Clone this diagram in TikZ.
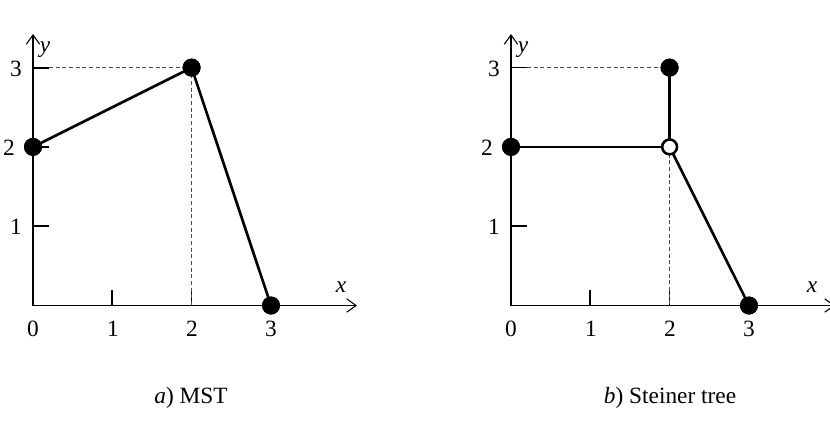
\documentclass[tikz,border=0pt]{standalone}
\usepackage{fontspec}
\setmainfont{Liberation Serif}
\usetikzlibrary{arrows.meta}
\begin{document}
\begin{tikzpicture}[x=0.75pt,y=-0.75pt,
  font=\fontsize{17.5}{20}\selectfont,
  axis/.style={line width=0.8pt,-{Straight Barb[length=7pt,width=10pt,line width=0.8pt]}},
  tickmark/.style={line width=1.5pt},
  edge/.style={line width=2pt},
  guide/.style={gray!60!black, line width=0.6pt, dash pattern=on 3pt off 2pt},
  dot/.style={circle, fill=black, inner sep=0pt, minimum size=13.5pt},
  sdot/.style={circle, draw=black, fill=white, line width=1.8pt, inner sep=0pt, minimum size=11pt},
  lbl/.style={inner sep=0pt, anchor=center}]
\useasboundingbox (0,0) rectangle (830,432);

% ---------- left plot ----------
\coordinate (O1) at (33,305.5);
\coordinate (X1) at (357,305.5);
\coordinate (Y1) at (33,34);
\draw[axis] (O1) -- (X1);
\draw[axis] (O1) -- (Y1);
\coordinate (t1x1a) at (112.3,305.5); \coordinate (t1x1b) at (112.3,290);
\coordinate (t1y1a) at (33,226.2); \coordinate (t1y1b) at (49,226.2);
\coordinate (t1y2a) at (33,146.9); \coordinate (t1y2b) at (49,146.9);
\coordinate (t1y3a) at (33,67.6); \coordinate (t1y3b) at (49,67.6);
\coordinate (t1x2a) at (191.6,305.5); \coordinate (t1x2b) at (191.6,290);
\draw[tickmark] (t1x1a) -- (t1x1b);
\draw[tickmark] (t1y1a) -- (t1y1b);
\draw[tickmark] (t1y2a) -- (t1y2b);
\draw[tickmark] (t1y3a) -- (t1y3b);
\draw[line width=0.6pt] (t1x2a) -- (t1x2b);
\node[dot] (a1) at (33,146.9) {};
\node[dot] (a2) at (191.6,67.6) {};
\node[dot] (a3) at (271,305.5) {};
\coordinate (g1) at (191.6,305.5);
\draw[guide] (t1y3b) -- (a2.center);
\draw[guide] (a2.center) -- (g1);
\draw[edge] (a1.center) -- (a2.center) -- (a3.center);
\node[dot] at (a1) {};
\node[dot] at (a2) {};
\node[dot] at (a3) {};
\node[lbl] (l1y) at (45,50) {\textit{y}};
\node[lbl] (l1x) at (341,287) {\textit{x}};
\node[lbl] (l1x0) at (33,329) {0};
\node[lbl] (l1x1) at (113,329) {1};
\node[lbl] (l1x2) at (192,329) {2};
\node[lbl] (l1x3) at (271,329) {3};
\node[lbl] (l1y1) at (16,227) {1};
\node[lbl] (l1y2) at (9,148) {2};
\node[lbl] (l1y3) at (16,69) {3};
\node[lbl] (cap1) at (191,398) {\textit{a}) MST};

% ---------- right plot ----------
\coordinate (O2) at (511,305.5);
\coordinate (X2) at (835,305.5);
\coordinate (Y2) at (511,34);
\draw[axis] (O2) -- (X2);
\draw[axis] (O2) -- (Y2);
\coordinate (t2x1a) at (590.3,305.5); \coordinate (t2x1b) at (590.3,290);
\coordinate (t2y1a) at (511,226.2); \coordinate (t2y1b) at (527,226.2);
\coordinate (t2y2a) at (511,146.9); \coordinate (t2y2b) at (527,146.9);
\coordinate (t2y3a) at (511,67.6); \coordinate (t2y3b) at (527,67.6);
\coordinate (t2x2a) at (669.6,305.5); \coordinate (t2x2b) at (669.6,290);
\draw[tickmark] (t2x1a) -- (t2x1b);
\draw[tickmark] (t2y1a) -- (t2y1b);
\draw[line width=0.6pt] (t2y3a) -- (t2y3b);
\draw[line width=0.6pt] (t2x2a) -- (t2x2b);
\node[dot] (b1) at (511,146.9) {};
\node[dot] (b2) at (669.6,67.6) {};
\node[sdot] (s) at (669.6,146.9) {};
\node[dot] (b3) at (749,305.5) {};
\coordinate (g2) at (669.6,305.5);
\draw[guide] (t2y3b) -- (b2.center);
\draw[guide] (s.center) -- (g2);
\draw[edge] (b1.center) -- (s.center);
\draw[edge] (b2.center) -- (s.center);
\draw[edge] (s.center) -- (b3.center);
\node[dot] at (b1) {};
\node[dot] at (b2) {};
\node[dot] at (b3) {};
\node[sdot] at (s) {};
\node[lbl] (l2y) at (523,50) {\textit{y}};
\node[lbl] (l2x) at (812,287) {\textit{x}};
\node[lbl] (l2x0) at (511,329) {0};
\node[lbl] (l2x1) at (591,329) {1};
\node[lbl] (l2x2) at (670,329) {2};
\node[lbl] (l2x3) at (749,329) {3};
\node[lbl] (l2y1) at (494,227) {1};
\node[lbl] (l2y2) at (487,148) {2};
\node[lbl] (l2y3) at (494,69) {3};
\node[lbl] (cap2) at (670,398) {\textit{b}) Steiner tree};
\end{tikzpicture}
\end{document}
